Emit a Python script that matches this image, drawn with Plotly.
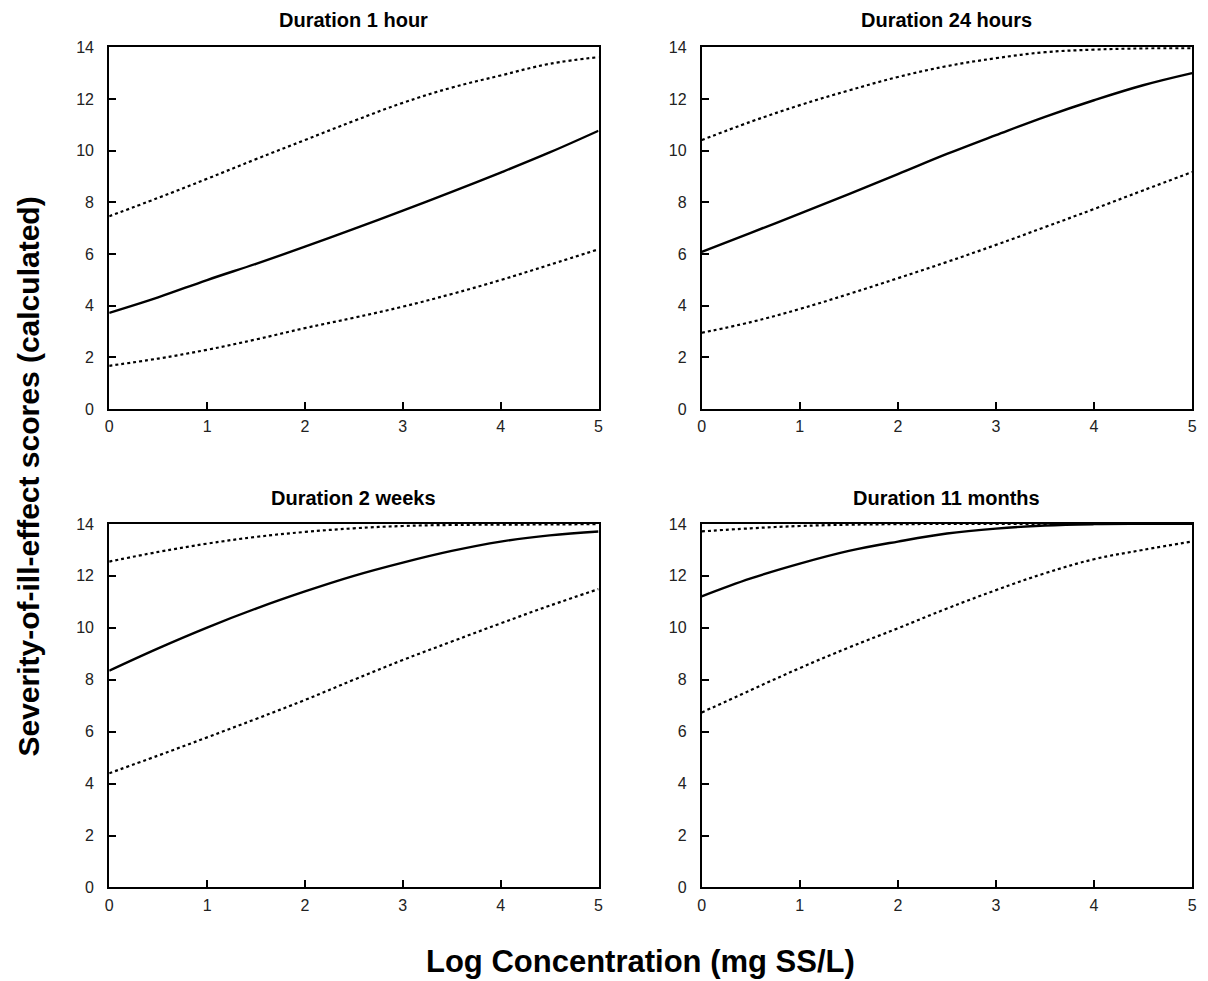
import plotly.graph_objects as go

x = [0, 0.5, 1, 1.5, 2, 2.5, 3, 3.5, 4, 4.5, 5]

# Duration 1 hour
h1_mid = [3.72, 4.32, 4.99, 5.62, 6.28, 6.97, 7.68, 8.40, 9.15, 9.93, 10.77]
h1_up = [7.46, 8.17, 8.91, 9.67, 10.41, 11.15, 11.85, 12.44, 12.91, 13.36, 13.62]
h1_lo = [1.67, 1.95, 2.29, 2.69, 3.13, 3.53, 3.96, 4.45, 4.99, 5.58, 6.18]

# Duration 24 hours
h24_mid = [6.08, 6.82, 7.56, 8.32, 9.09, 9.87, 10.60, 11.31, 11.95, 12.53, 13.00]
h24_up = [10.41, 11.12, 11.76, 12.33, 12.85, 13.27, 13.58, 13.81, 13.91, 13.96, 13.97]
h24_lo = [2.95, 3.36, 3.87, 4.45, 5.06, 5.69, 6.35, 7.04, 7.74, 8.46, 9.17]

# Duration 2 weeks
w2_mid = [8.35, 9.21, 10.01, 10.74, 11.40, 12.00, 12.51, 12.96, 13.32, 13.56, 13.71]
w2_up = [12.55, 12.92, 13.24, 13.50, 13.69, 13.83, 13.92, 13.96, 13.97, 13.98, 13.99]
w2_lo = [4.40, 5.08, 5.78, 6.49, 7.22, 8.00, 8.76, 9.47, 10.17, 10.85, 11.49]

# Duration 11 months
m11_mid = [11.21, 11.90, 12.47, 12.96, 13.32, 13.63, 13.82, 13.94, 13.99, 14.00, 14.00]
m11_up = [13.71, 13.83, 13.92, 13.97, 13.99, 14.00, 14.00, 14.00, 14.00, 14.00, 14.00]
m11_lo = [6.74, 7.60, 8.45, 9.24, 9.98, 10.74, 11.45, 12.10, 12.64, 13.00, 13.32]

titles = ["Duration 1 hour", "Duration 24 hours", "Duration 2 weeks", "Duration 11 months"]
panels = [(h1_mid, h1_up, h1_lo), (h24_mid, h24_up, h24_lo),
          (w2_mid, w2_up, w2_lo), (m11_mid, m11_up, m11_lo)]

x_ticks = [0, 1, 2, 3, 4, 5]
y_ticks = [0, 2, 4, 6, 8, 10, 12, 14]

W, H = 1208, 981
px_x = [(106, 599), (703, 1197), (106, 599), (703, 1197)]
px_y = [(40, 408), (40, 408), (525, 895), (525, 895)]
title_y = [12, 12, 499, 499]

FONT = "Arial, 'Liberation Sans', sans-serif"
fig = go.Figure()
layout = dict(
    width=W, height=H, margin=dict(l=0, r=0, t=0, b=0),
    paper_bgcolor="white", plot_bgcolor="white", showlegend=False,
    font=dict(family=FONT, color="#222"),
)
annotations = []
for i, (mid, up, lo) in enumerate(panels):
    n = "" if i == 0 else str(i + 1)
    xa, ya = "x" + n, "y" + n
    for ys, dash, w in [(up, "dot", 2.2), (lo, "dot", 2.2), (mid, "solid", 2.4)]:
        fig.add_trace(go.Scatter(x=x, y=ys, mode="lines", xaxis=xa, yaxis=ya,
                                 line=dict(color="black", width=w, dash=dash, shape="spline", smoothing=1.1),
                                 hoverinfo="skip"))
    x0, x1 = px_x[i]
    y0, y1 = px_y[i]
    axis_common = dict(showgrid=False, zeroline=False, showline=True, linecolor="black",
                       linewidth=2, mirror=True, ticks="inside", ticklen=7, tickwidth=2,
                       tickcolor="black", tickfont=dict(size=16, family=FONT, color="#222"))
    layout["xaxis" + n] = dict(axis_common, domain=[x0 / W, x1 / W], range=[0, 5],
                               tickvals=x_ticks, anchor=ya, ticklabelstandoff=2)
    layout["yaxis" + n] = dict(axis_common, domain=[1 - y1 / H, 1 - y0 / H], range=[0, 14],
                               tickvals=y_ticks, anchor=xa, ticklabelstandoff=10)
    annotations.append(dict(text="<b>" + titles[i] + "</b>", x=(x0 + x1) / 2 / W,
                            y=1 - title_y[i] / H, xref="paper", yref="paper",
                            showarrow=False, font=dict(size=20, family=FONT, color="black"),
                            xanchor="center", yanchor="middle"))

annotations.append(dict(text="<b>Severity-of-ill-effect scores (calculated)</b>",
                        x=25 / W, y=1 - 477 / H, xref="paper", yref="paper", showarrow=False,
                        textangle=-90, font=dict(size=30, family=FONT, color="black"),
                        xanchor="center", yanchor="middle"))
annotations.append(dict(text="<b>Log Concentration (mg SS/L)</b>",
                        x=641 / W, y=1 - 970 / H, xref="paper", yref="paper", showarrow=False,
                        font=dict(size=31, family=FONT, color="black"),
                        xanchor="center", yanchor="middle"))
layout["annotations"] = annotations
fig.update_layout(**layout)
fig.write_html("out.html")
